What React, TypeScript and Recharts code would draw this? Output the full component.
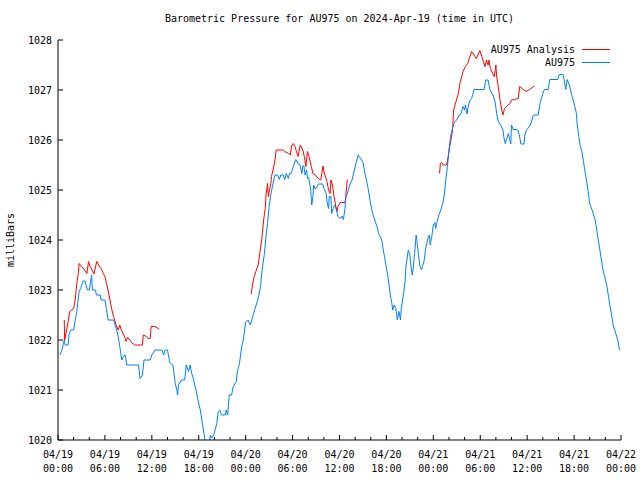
import React from 'react'
import { LineChart, Line, XAxis, YAxis, Legend } from 'recharts'

// hours since 2024-04-19 00:00 UTC
const stationHours = [
  0.25, 0.5, 0.8, 0.9, 1.3, 1.4, 1.6, 2.0, 2.2, 2.4, 2.7, 2.9, 3.2, 3.45, 3.75, 4.0, 4.3, 4.4, 4.8, 4.9,
  5.4, 5.5, 6.0, 6.2, 6.4, 7.1, 7.3, 7.5, 7.7, 7.9, 8.15, 8.35, 8.6, 8.8, 10.3, 10.5, 10.8, 11.0, 11.8, 12.0,
  12.4, 13.3, 13.5, 13.7, 14.0, 14.3, 14.7, 15.0, 15.2, 15.3, 15.4, 15.8, 16.2, 16.4, 16.7, 16.9, 17.1, 17.3, 17.65, 17.9,
  18.2, 18.4, 18.6, 18.8, 19.0, 19.3, 19.5, 19.65, 19.9, 20.1, 20.3, 20.5, 20.7, 20.9, 21.4, 21.5, 21.7, 21.9, 22.2, 22.4,
  22.8, 22.9, 23.2, 23.5, 23.7, 24.0, 24.3, 24.6, 25.2, 25.6, 25.9, 26.1, 26.4, 26.6, 26.8, 27.0, 27.2, 27.5, 27.75, 28.1,
  28.3, 28.5, 28.8, 29.0, 29.2, 29.45, 29.6, 29.8, 30.1, 30.4, 30.7, 30.95, 31.2, 31.3, 31.45, 31.6, 31.8, 31.9, 32.05, 32.3,
  32.45, 32.6, 32.7, 32.9, 33.1, 33.3, 33.85, 34.0, 34.3, 34.4, 34.6, 34.7, 34.9, 35.0, 35.2, 35.4, 35.6, 35.8, 36.1, 36.3,
  36.5, 36.7, 36.8, 37.0, 37.3, 37.6, 37.9, 38.1, 38.4, 38.7, 39.0, 39.3, 39.5, 39.7, 39.9, 40.1, 40.3, 40.5, 40.8, 41.0,
  41.2, 41.4, 41.6, 41.8, 42.0, 42.2, 42.5, 42.7, 42.8, 43.0, 43.2, 43.4, 43.6, 43.8, 43.9, 44.2, 44.4, 44.5, 44.7, 44.8,
  45.0, 45.1, 45.3, 45.4, 45.6, 45.8, 45.95, 46.1, 46.3, 46.5, 46.6, 46.8, 47.0, 47.15, 47.3, 47.5, 47.6, 47.8, 48.0, 48.2,
  48.3, 48.5, 48.7, 48.9, 49.2, 49.4, 49.6, 49.8, 50.0, 50.2, 50.4, 50.7, 51.0, 51.3, 51.5, 51.8, 52.0, 52.1, 52.3, 52.5,
  52.7, 52.9, 53.2, 54.5, 54.7, 55.0, 55.25, 55.6, 55.9, 56.1, 56.3, 56.6, 56.9, 57.05, 57.2, 57.4, 57.6, 57.75, 57.9, 58.0,
  58.2, 58.6, 58.8, 59.0, 59.2, 59.6, 59.7, 59.9, 60.1, 60.4, 60.6, 60.8, 61.4, 61.5, 61.7, 62.0, 62.2, 62.7, 62.9, 63.9,
  64.1, 64.6, 64.8, 64.95, 65.1, 65.4, 65.7, 66.0, 66.3, 66.4, 66.6, 66.8, 67.0, 67.2, 67.4, 67.6, 67.8, 68.0, 68.3, 68.5,
  68.7, 68.9, 69.1, 69.3, 69.5, 69.7, 69.9, 70.2, 70.4, 70.6, 70.8, 71.0, 71.2, 71.4, 71.6, 71.8,
]

const stationPressure = [
  1021.7, 1021.8, 1022.0, 1021.9, 1021.9, 1022.1, 1022.2, 1022.2, 1022.4, 1022.57, 1022.97, 1023.03, 1023.18, 1023.18, 1023.0, 1023.0, 1023.3, 1023.0, 1023.0, 1022.9,
  1022.9, 1022.8, 1022.8, 1022.63, 1022.4, 1022.4, 1022.3, 1022.2, 1022.07, 1021.87, 1021.6, 1021.67, 1021.7, 1021.5, 1021.5, 1021.23, 1021.3, 1021.6, 1021.6, 1021.7,
  1021.8, 1021.8, 1021.7, 1021.8, 1021.8, 1021.55, 1021.5, 1021.13, 1021.0, 1020.9, 1021.1, 1021.2, 1021.2, 1021.5, 1021.37, 1021.5, 1021.33, 1021.23, 1021.0, 1020.8,
  1020.6, 1020.4, 1020.2, 1020.0, 1019.85, 1019.9, 1020.1, 1020.04, 1020.1, 1020.2, 1020.33, 1020.57, 1020.6, 1020.5, 1020.5, 1020.6, 1020.5, 1020.9, 1020.9, 1021.07,
  1021.17, 1021.33, 1021.53, 1021.87, 1022.0, 1022.36, 1022.4, 1022.3, 1022.63, 1022.83, 1023.07, 1023.4, 1023.73, 1024.07, 1024.33, 1024.67, 1024.9, 1025.13, 1025.3, 1025.3,
  1025.21, 1025.3, 1025.3, 1025.21, 1025.33, 1025.23, 1025.33, 1025.33, 1025.47, 1025.61, 1025.53, 1025.5, 1025.33, 1025.48, 1025.48, 1025.3, 1025.4, 1025.23, 1025.25, 1025.03,
  1024.7, 1024.87, 1025.1, 1025.02, 1025.06, 1025.12, 1025.12, 1025.03, 1024.93, 1024.77, 1024.63, 1024.87, 1024.87, 1024.53, 1024.63, 1024.7, 1024.6, 1024.47, 1024.43, 1024.48,
  1024.41, 1024.63, 1024.83, 1024.93, 1025.1, 1025.2, 1025.4, 1025.53, 1025.7, 1025.63, 1025.55, 1025.3, 1025.15, 1025.0, 1024.8, 1024.63, 1024.5, 1024.4, 1024.27, 1024.13,
  1024.07, 1024.0, 1023.8, 1023.63, 1023.43, 1023.27, 1022.9, 1022.73, 1022.6, 1022.7, 1022.63, 1022.4, 1022.57, 1022.4, 1022.63, 1022.93, 1023.2, 1023.47, 1023.7, 1023.8,
  1023.7, 1023.53, 1023.3, 1023.4, 1023.73, 1024.1, 1023.93, 1023.7, 1023.47, 1023.4, 1023.47, 1023.57, 1023.8, 1023.93, 1024.03, 1024.1, 1023.9, 1024.07, 1024.3, 1024.35,
  1024.23, 1024.37, 1024.5, 1024.57, 1024.73, 1024.9, 1025.2, 1025.47, 1025.8, 1026.07, 1026.2, 1026.37, 1026.4, 1026.5, 1026.51, 1026.67, 1026.6, 1026.7, 1026.52, 1026.7,
  1026.8, 1026.83, 1027.01, 1027.01, 1027.2, 1027.2, 1027.0, 1026.9, 1026.77, 1026.53, 1026.37, 1026.3, 1026.2, 1026.03, 1025.93, 1026.03, 1026.13, 1026.03, 1025.92, 1026.3,
  1026.21, 1026.21, 1026.2, 1026.1, 1025.92, 1025.92, 1026.1, 1026.2, 1026.23, 1026.3, 1026.4, 1026.5, 1026.5, 1026.6, 1026.77, 1026.93, 1027.01, 1027.01, 1027.21, 1027.21,
  1027.31, 1027.31, 1027.13, 1027.01, 1027.21, 1027.1, 1026.9, 1026.73, 1026.53, 1026.3, 1026.07, 1025.87, 1025.77, 1025.57, 1025.37, 1025.17, 1024.97, 1024.73, 1024.6, 1024.5,
  1024.4, 1024.2, 1024.0, 1023.8, 1023.6, 1023.4, 1023.27, 1023.07, 1022.87, 1022.67, 1022.5, 1022.3, 1022.2, 1022.1, 1022.0, 1021.8,
]

// analysis only exists in three runs; null breaks the line
const analysisHours = [
  0.8, 0.85, 1.1, 1.3, 1.5, 1.75, 2.0, 2.2, 2.4, 2.6, 2.7, 3.0, 3.4, 3.7, 3.9, 4.1, 4.35, 4.6, 4.95, 5.2,
  5.5, 5.8, 6.0, 6.2, 6.4, 6.65, 6.9, 7.1, 7.3, 7.5, 7.7, 7.9, 8.1, 8.4, 8.6, 8.7, 8.9, 9.2, 9.4, 9.8,
  10.8, 10.9, 11.2, 11.55, 11.8, 11.9, 12.4, 12.8, 12.95,
  18,
  24.7, 24.9, 25.1, 25.3, 25.6, 25.8, 26.05, 26.3, 26.5, 26.6, 26.8, 26.9, 27.05, 27.2, 27.3, 27.5, 27.75, 27.9, 28.8, 29.0,
  29.5, 29.7, 29.9, 30.1, 30.3, 30.5, 30.7, 30.85, 31.0, 31.3, 31.5, 31.7, 31.9, 32.1, 32.4, 32.6, 32.9, 33.3, 33.6, 33.9,
  34.0, 34.4, 34.6, 34.8, 34.9, 35.1, 35.3, 35.5, 35.7, 35.8, 36.1, 36.7, 36.8, 37.0,
  43,
  48.8, 48.9, 49.05, 49.3, 49.7, 49.9, 50.1, 50.4, 50.5, 50.6, 50.9, 51.2, 51.4, 51.8, 52.1, 52.4, 52.6, 52.9, 53.2, 53.5,
  53.7, 53.95, 54.2, 54.4, 54.6, 54.8, 55.0, 55.1, 55.3, 55.6, 55.8, 56.0, 56.1, 56.3, 56.5, 56.75, 56.9, 57.1, 57.4, 57.8,
  58.0, 58.4, 58.85, 59.05, 59.5, 59.85, 60.3, 60.9,
]

const analysisPressure = [
  1022.4, 1021.99, 1022.2, 1022.37, 1022.57, 1022.6, 1022.63, 1022.8, 1023.13, 1023.33, 1023.53, 1023.47, 1023.4, 1023.33, 1023.57, 1023.47, 1023.4, 1023.32, 1023.57, 1023.5,
  1023.43, 1023.33, 1023.27, 1023.13, 1023.0, 1022.8, 1022.6, 1022.47, 1022.37, 1022.27, 1022.2, 1022.3, 1022.2, 1022.1, 1022.03, 1021.97, 1022.05, 1022.0, 1021.95, 1021.9,
  1021.9, 1022.1, 1022.08, 1022.03, 1022.03, 1022.27, 1022.27, 1022.23, 1022.21,
  null,
  1022.92, 1023.13, 1023.27, 1023.37, 1023.5, 1023.73, 1024.0, 1024.4, 1024.63, 1024.9, 1025.13, 1024.87, 1025.0, 1025.1, 1025.27, 1025.4, 1025.6, 1025.8, 1025.8, 1025.77,
  1025.73, 1025.7, 1025.9, 1025.93, 1025.87, 1025.77, 1025.67, 1025.8, 1025.9, 1025.8, 1025.67, 1025.47, 1025.77, 1025.67, 1025.47, 1025.33, 1025.3, 1025.23, 1025.2, 1025.48,
  1025.37, 1025.17, 1025.0, 1024.93, 1025.2, 1025.1, 1024.87, 1024.7, 1024.57, 1024.67, 1024.75, 1024.75, 1024.87, 1025.21,
  null,
  1025.33, 1025.53, 1025.55, 1025.5, 1025.5, 1025.67, 1025.87, 1026.13, 1026.33, 1026.6, 1026.77, 1026.93, 1027.13, 1027.37, 1027.47, 1027.53, 1027.63, 1027.77, 1027.7, 1027.63,
  1027.7, 1027.79, 1027.67, 1027.57, 1027.47, 1027.6, 1027.5, 1027.6, 1027.43, 1027.33, 1027.27, 1027.5, 1027.27, 1027.07, 1026.83, 1026.6, 1026.5, 1026.63, 1026.68, 1026.73,
  1026.8, 1026.81, 1026.83, 1027.07, 1027.01, 1026.97, 1027.01, 1027.08,
]

const seriesNames = ['AU975 Analysis', 'AU975']

const xTicks = [0, 2, 4, 6, 8, 10, 12, 14, 16, 18, 20, 22, 24, 26, 28, 30, 32, 34, 36, 38, 40, 42, 44, 46, 48, 50, 52, 54, 56, 58, 60, 62, 64, 66, 68, 70, 72]
const xTickDates = ['04/19', '04/19', '04/19', '04/19', '04/20', '04/20', '04/20', '04/20', '04/21', '04/21', '04/21', '04/21', '04/22']
const xTickTimes = ['00:00', '06:00', '12:00', '18:00', '00:00', '06:00', '12:00', '18:00', '00:00', '06:00', '12:00', '18:00', '00:00']
const yTicks = [1020, 1021, 1022, 1023, 1024, 1025, 1026, 1027, 1028]

const stationData = stationHours.map((h, i) => ({ h, p: stationPressure[i] }))
const analysisData = analysisHours.map((h, i) => ({ h, p: analysisPressure[i] }))

const FONT = '"DejaVu Sans Mono", "Liberation Mono", monospace'
const RED = '#ff0000'
const BLUE = '#0080ff'

const BottomTick = (props: any) => {
  const { x, y, payload } = props
  const hr = payload.value
  const major = hr % 6 === 0
  const idx = hr / 6
  return (
    <g>
      <line x1={x} x2={x} y1={y} y2={y - (major ? 5 : 3)} stroke="#000" />
      {major && (
        <text x={x} y={y + 18} textAnchor="middle" fontFamily={FONT} fontSize={10} fill="#000">
          <tspan x={x}>{xTickDates[idx]}</tspan>
          <tspan x={x} dy={14}>{xTickTimes[idx]}</tspan>
        </text>
      )}
    </g>
  )
}

const TopTick = (props: any) => {
  const { x, y, payload } = props
  const major = payload.value % 6 === 0
  return <line x1={x} x2={x} y1={y} y2={y + (major ? 5 : 3)} stroke="#000" />
}

const LeftTick = (props: any) => {
  const { x, y, payload } = props
  return (
    <g>
      <line x1={x} x2={x + 5} y1={y} y2={y} stroke="#000" />
      <text x={x - 6} y={y + 4} textAnchor="end" fontFamily={FONT} fontSize={10} fill="#000">
        {payload.value}
      </text>
    </g>
  )
}

const RightTick = (props: any) => {
  const { x, y } = props
  return <line x1={x} x2={x - 5} y1={y} y2={y} stroke="#000" />
}

const LegendBox = (props: any) => {
  const items = [...(props.payload || [])].sort(
    (a: any, b: any) => seriesNames.indexOf(a.value) - seriesNames.indexOf(b.value),
  )
  return (
    <div style={{ fontFamily: FONT, fontSize: 10, lineHeight: '13px', color: '#000' }}>
      {items.map((it: any) => (
        <div key={it.value} style={{ display: 'flex', justifyContent: 'flex-end', alignItems: 'center' }}>
          <span>{it.value}</span>
          <svg width={36} height={13}>
            <line x1={7} x2={35} y1={6.5} y2={6.5} stroke={it.color} strokeWidth={1} />
          </svg>
        </div>
      ))}
    </div>
  )
}

export default function App() {
  return (
    <div style={{ position: 'absolute', left: 0, top: 0, width: 640, height: 480, background: '#fff', fontFamily: FONT, fontSize: 10 }}>
      <div style={{ position: 'absolute', left: 58, width: 563, top: 13, lineHeight: '12px', textAlign: 'center' }}>
        Barometric Pressure for AU975 on 2024-Apr-19 (time in UTC)
      </div>
      <div
        style={{
          position: 'absolute', left: 11, top: 240, lineHeight: '12px', whiteSpace: 'nowrap',
          transform: 'translate(-50%, -50%) rotate(-90deg)',
        }}
      >
        milliBars
      </div>
      <LineChart width={640} height={480} margin={{ top: 40, right: 19, bottom: 0, left: 0 }}>
        <XAxis
          xAxisId="bottom" dataKey="h" type="number" domain={[0, 72]} ticks={xTicks} interval={0}
          height={40} tickSize={0} tickMargin={0} tickLine={false} tick={<BottomTick />}
          axisLine={{ stroke: '#000' }}
        />
        <XAxis
          xAxisId="top" orientation="top" dataKey="h" type="number" domain={[0, 72]} ticks={xTicks} interval={0}
          height={0} tickSize={0} tickMargin={0} tickLine={false} tick={<TopTick />}
          axisLine={{ stroke: '#000' }}
        />
        <YAxis
          yAxisId="left" type="number" domain={[1020, 1028]} ticks={yTicks} interval={0} allowDataOverflow
          width={58} tickSize={0} tickMargin={0} tickLine={false} tick={<LeftTick />}
          axisLine={{ stroke: '#000' }}
        />
        <YAxis
          yAxisId="right" orientation="right" type="number" domain={[1020, 1028]} ticks={yTicks} interval={0} allowDataOverflow
          width={0} tickSize={0} tickMargin={0} tickLine={false} tick={<RightTick />}
          axisLine={{ stroke: '#000' }}
        />
        <Legend
          layout="vertical" align="center" verticalAlign="middle" content={<LegendBox />}
          wrapperStyle={{ position: 'absolute', top: 43, left: 0, width: 611, bottom: 'auto', right: 'auto' }}
        />
        <Line
          xAxisId="bottom" yAxisId="left" data={analysisData} dataKey="p" name="AU975 Analysis"
          type="linear" stroke={RED} strokeWidth={1} dot={false} activeDot={false}
          connectNulls={false} isAnimationActive={false}
        />
        <Line
          xAxisId="bottom" yAxisId="left" data={stationData} dataKey="p" name="AU975"
          type="linear" stroke={BLUE} strokeWidth={1} dot={false} activeDot={false}
          isAnimationActive={false}
        />
      </LineChart>
    </div>
  )
}
